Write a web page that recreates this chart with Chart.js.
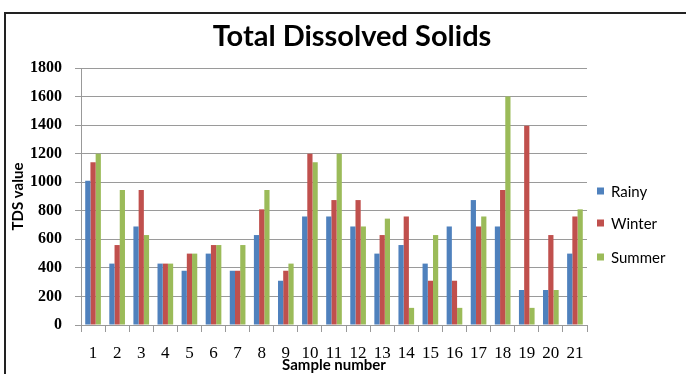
<!DOCTYPE html>
<html>
<head>
<meta charset="utf-8">
<script src="https://cdn.jsdelivr.net/npm/chart.js@4/dist/chart.umd.min.js"></script>
<style>
  html, body { margin: 0; padding: 0; background: #fff; }
  #wrap { width: 686px; height: 374px; }
</style>
</head>
<body>
<div id="wrap"><canvas id="tds" width="686" height="374"></canvas></div>
<script>
// Sample numbers along the x axis
const samples = ['1','2','3','4','5','6','7','8','9','10','11','12','13','14','15','16','17','18','19','20','21'];

// TDS values per season
const rainy  = [1010, 430, 690, 430, 380, 500, 380, 630, 310, 760, 760, 690, 500, 560, 430, 690, 875, 690, 245, 245, 500];
const winter = [1140, 560, 945, 430, 500, 560, 380, 810, 380, 1200, 875, 875, 630, 760, 310, 310, 690, 945, 1395, 630, 760];
const summer = [1200, 945, 630, 430, 500, 560, 560, 945, 430, 1140, 1200, 690, 745, 120, 630, 120, 760, 1600, 120, 245, 810];

const seriesNames = ['Rainy', 'Winter', 'Summer'];
const seriesColors = ['#4F81BD', '#C0504D', '#9BBB59'];

const chartTitle = 'Total Dissolved Solids';

// Frame, title and legend drawn on top of the chart
const decorations = {
  id: 'decorations',
  afterDraw(chart) {
    const ctx = chart.ctx;
    ctx.save();
    // outer frame
    ctx.strokeStyle = '#222';
    ctx.lineWidth = 2;
    ctx.beginPath();
    ctx.moveTo(5, 374);
    ctx.lineTo(5, 13);
    ctx.lineTo(686, 13);
    ctx.stroke();

    // title
    ctx.fillStyle = '#000';
    ctx.font = 'bold 29px Lato, "Open Sans", sans-serif';
    ctx.textAlign = 'center';
    ctx.textBaseline = 'middle';
    ctx.fillText(chartTitle, 352, 37);

    // legend
    const items = chart.data.datasets;
    const ys = [191, 223, 257];
    ctx.font = '15px Lato, "Open Sans", sans-serif';
    ctx.textAlign = 'left';
    items.forEach((ds, i) => {
      ctx.fillStyle = ds.backgroundColor;
      ctx.fillRect(597, ys[i] - 3.5, 7, 7);
      ctx.fillStyle = '#000';
      ctx.fillText(ds.label, 611, ys[i] + 1);
    });
    ctx.restore();
  }
};

new Chart(document.getElementById('tds'), {
  type: 'bar',
  data: {
    labels: samples,
    datasets: [
      { label: seriesNames[0], data: rainy,  backgroundColor: seriesColors[0] },
      { label: seriesNames[1], data: winter, backgroundColor: seriesColors[1] },
      { label: seriesNames[2], data: summer, backgroundColor: seriesColors[2] }
    ]
  },
  options: {
    responsive: false,
    animation: false,
    devicePixelRatio: 1,
    layout: { padding: { left: 8, top: 68, right: 99, bottom: 0 } },
    datasets: {
      bar: { categoryPercentage: 0.65, barPercentage: 1.0, borderWidth: 0 }
    },
    plugins: {
      legend: { display: false },
      title: { display: false },
      tooltip: { enabled: false }
    },
    scales: {
      x: {
        grid: {
          offset: true,
          drawOnChartArea: false,
          drawTicks: true,
          tickLength: 7,
          color: '#999'
        },
        border: { color: '#999', width: 1 },
        ticks: {
          color: '#000',
          padding: 11,
          maxRotation: 0,
          autoSkip: false,
          font: { family: '"Liberation Serif", serif', size: 17 }
        },
        title: {
          display: true,
          text: 'Sample number',
          color: '#000',
          padding: { top: 0, bottom: 0 },
          font: { family: 'Lato, "Open Sans", sans-serif', size: 15, weight: 'bold' }
        },
        afterFit(scale) { scale.height = 49; }
      },
      y: {
        min: 0,
        max: 1800,
        grid: {
          color: '#9a9a9a',
          lineWidth: 1,
          tickLength: 6,
          drawTicks: true
        },
        border: { color: '#999', width: 1 },
        ticks: {
          stepSize: 200,
          color: '#000',
          padding: 13,
          callback: (v) => String(v),
          font: { family: '"Liberation Serif", serif', size: 16, weight: 'bold' }
        },
        title: {
          display: true,
          text: 'TDS value',
          color: '#000',
          padding: { top: 1, bottom: 0 },
          font: { family: 'Lato, "Open Sans", sans-serif', size: 15, weight: 'bold' }
        },
        afterFit(scale) { scale.width = 73; }
      }
    }
  },
  plugins: [decorations]
});
</script>
</body>
</html>
